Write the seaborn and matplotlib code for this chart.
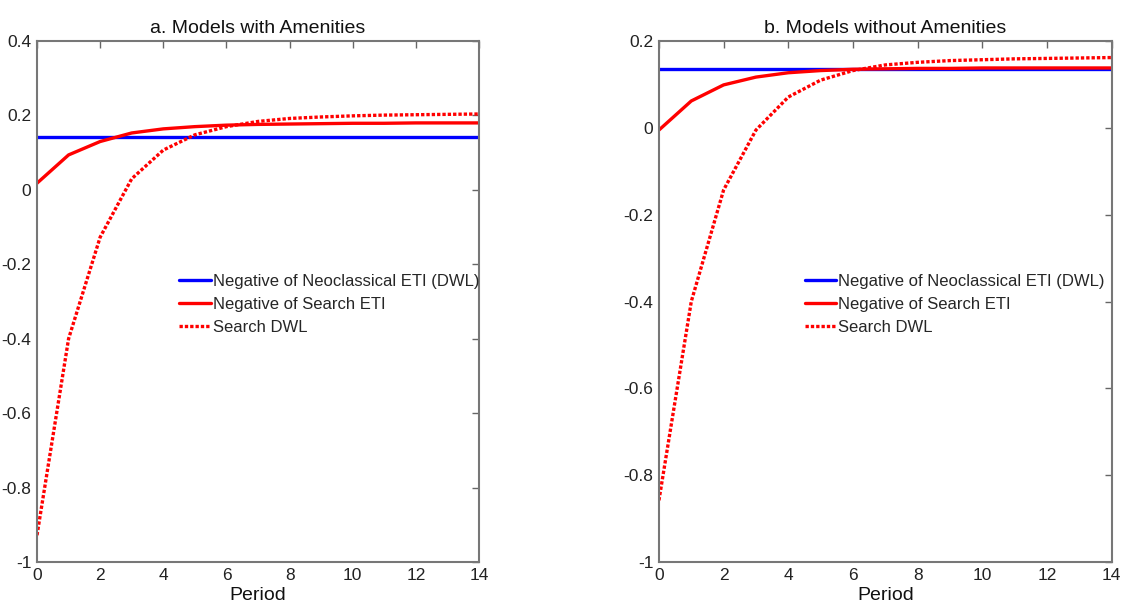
import numpy as np
import pandas as pd
import seaborn as sns
import matplotlib
matplotlib.use("Agg")
import matplotlib.pyplot as plt
from matplotlib import font_manager

periods = list(range(15))

# Panel a: Models with Amenities
a_neoclassical = [0.142] * 15
a_search_eti = [0.018, 0.094, 0.130, 0.153, 0.164, 0.170, 0.174, 0.176, 0.177, 0.178, 0.179, 0.179, 0.180, 0.180, 0.180]
a_search_dwl = [-0.928, -0.400, -0.127, 0.030, 0.107, 0.148, 0.170, 0.184, 0.192, 0.196, 0.199, 0.201, 0.202, 0.203, 0.204]

# Panel b: Models without Amenities
b_neoclassical = [0.135] * 15
b_search_eti = [-0.005, 0.062, 0.099, 0.117, 0.127, 0.132, 0.135, 0.136, 0.137, 0.137, 0.138, 0.138, 0.138, 0.138, 0.138]
b_search_dwl = [-0.858, -0.400, -0.143, -0.005, 0.071, 0.110, 0.132, 0.145, 0.151, 0.155, 0.157, 0.159, 0.160, 0.161, 0.162]

titles = ["a. Models with Amenities", "b. Models without Amenities"]
labels = ["Negative of Neoclassical ETI (DWL)", "Negative of Search ETI", "Search DWL"]
a_yticks = [-1, -0.8, -0.6, -0.4, -0.2, 0, 0.2, 0.4]
b_yticks = [-1, -0.8, -0.6, -0.4, -0.2, 0, 0.2]
xticks = [0, 2, 4, 6, 8, 10, 12, 14]

sns.set_style("white")
avail = {f.name for f in font_manager.fontManager.ttflist}
fam = "Liberation Sans Narrow" if "Liberation Sans Narrow" in avail else "Liberation Sans"
plt.rcParams["font.family"] = [fam, "DejaVu Sans"]

fig = plt.figure(figsize=(11.46, 6.10), dpi=100)
ax1 = fig.add_axes([0.0323, 0.0787, 0.3857, 0.854])
ax2 = fig.add_axes([0.575, 0.0787, 0.395, 0.854])

def tick_fmt(v):
    if v == 0:
        return "0"
    if float(v).is_integer():
        return str(int(v))
    return f"{v:g}"

def draw(ax, neo, eti, dwl, title, yticks, ylim):
    df = pd.DataFrame({"Period": periods * 3,
                       "value": neo + eti + dwl,
                       "series": [labels[0]] * 15 + [labels[1]] * 15 + [labels[2]] * 15})
    sns.lineplot(data=df[df.series == labels[0]], x="Period", y="value", ax=ax,
                 color="#0000ff", lw=2.4, label=labels[0])
    sns.lineplot(data=df[df.series == labels[1]], x="Period", y="value", ax=ax,
                 color="#ff0000", lw=2.4, label=labels[1])
    sns.lineplot(data=df[df.series == labels[2]], x="Period", y="value", ax=ax,
                 color="#ff0000", lw=2.4, ls=(0, (1, 0.6)), label=labels[2])
    ax.set_xlim(0, 14)
    ax.set_ylim(*ylim)
    ax.set_xticks(xticks)
    ax.set_xticklabels([str(t) for t in xticks])
    ax.set_yticks(yticks)
    ax.set_yticklabels([tick_fmt(t) for t in yticks])
    ax.tick_params(direction="in", top=True, right=True, length=5, width=1,
                   color="#666666", labelsize=12.5, labelcolor="#222222", pad=4)
    for s in ax.spines.values():
        s.set_color("#777777")
        s.set_linewidth(1.5)
    ax.set_title(title, fontsize=14, color="#111111", pad=6)
    ax.set_xlabel("Period", fontsize=14, color="#111111", labelpad=3)
    ax.set_ylabel("")
    ax.legend(loc="upper left", bbox_to_anchor=(0.322, 0.553), frameon=False,
              fontsize=12, handlelength=1.9, handletextpad=0.1, labelspacing=0.48,
              borderpad=0, borderaxespad=0)

draw(ax1, a_neoclassical, a_search_eti, a_search_dwl, titles[0], a_yticks, (-1, 0.4))
draw(ax2, b_neoclassical, b_search_eti, b_search_dwl, titles[1], b_yticks, (-1, 0.2))

fig.savefig("out.png", dpi=100)
